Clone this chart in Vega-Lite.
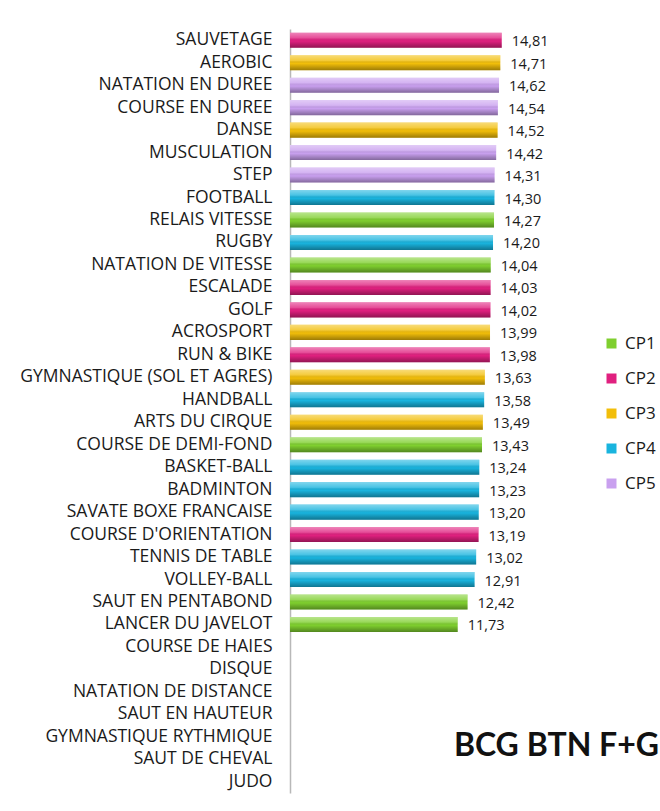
{
  "$schema": "https://vega.github.io/schema/vega-lite/v6.json",
  "autosize": {"type": "none"},
  "padding": {"left": 290, "top": 29, "right": 4, "bottom": 18},
  "width": 366,
  "height": 764,
  "background": "white",
  "title": {
    "text": "BCG BTN F+G",
    "orient": "bottom",
    "anchor": "end",
    "frame": "group",
    "font": "Lato",
    "fontWeight": "bold",
    "fontSize": 32,
    "color": "#111111",
    "baseline": "alphabetic",
    "offset": 0,
    "dx": 3,
    "dy": -37
  },
  "data": {
    "values": [
      {"sport": "SAUVETAGE", "note": 14.81, "cp": "CP2"},
      {"sport": "AEROBIC", "note": 14.71, "cp": "CP3"},
      {"sport": "NATATION EN DUREE", "note": 14.62, "cp": "CP5"},
      {"sport": "COURSE EN DUREE", "note": 14.54, "cp": "CP5"},
      {"sport": "DANSE", "note": 14.52, "cp": "CP3"},
      {"sport": "MUSCULATION", "note": 14.42, "cp": "CP5"},
      {"sport": "STEP", "note": 14.31, "cp": "CP5"},
      {"sport": "FOOTBALL", "note": 14.30, "cp": "CP4"},
      {"sport": "RELAIS VITESSE", "note": 14.27, "cp": "CP1"},
      {"sport": "RUGBY", "note": 14.20, "cp": "CP4"},
      {"sport": "NATATION DE VITESSE", "note": 14.04, "cp": "CP1"},
      {"sport": "ESCALADE", "note": 14.03, "cp": "CP2"},
      {"sport": "GOLF", "note": 14.02, "cp": "CP2"},
      {"sport": "ACROSPORT", "note": 13.99, "cp": "CP3"},
      {"sport": "RUN & BIKE", "note": 13.98, "cp": "CP2"},
      {"sport": "GYMNASTIQUE (SOL ET AGRES)", "note": 13.63, "cp": "CP3"},
      {"sport": "HANDBALL", "note": 13.58, "cp": "CP4"},
      {"sport": "ARTS DU CIRQUE", "note": 13.49, "cp": "CP3"},
      {"sport": "COURSE DE DEMI-FOND", "note": 13.43, "cp": "CP1"},
      {"sport": "BASKET-BALL", "note": 13.24, "cp": "CP4"},
      {"sport": "BADMINTON", "note": 13.23, "cp": "CP4"},
      {"sport": "SAVATE BOXE FRANCAISE", "note": 13.20, "cp": "CP4"},
      {"sport": "COURSE D'ORIENTATION", "note": 13.19, "cp": "CP2"},
      {"sport": "TENNIS DE TABLE", "note": 13.02, "cp": "CP4"},
      {"sport": "VOLLEY-BALL", "note": 12.91, "cp": "CP4"},
      {"sport": "SAUT EN PENTABOND", "note": 12.42, "cp": "CP1"},
      {"sport": "LANCER DU JAVELOT", "note": 11.73, "cp": "CP1"},
      {"sport": "COURSE DE HAIES", "note": null, "cp": "CP1"},
      {"sport": "DISQUE", "note": null, "cp": "CP1"},
      {"sport": "NATATION DE DISTANCE", "note": null, "cp": "CP1"},
      {"sport": "SAUT EN HAUTEUR", "note": null, "cp": "CP1"},
      {"sport": "GYMNASTIQUE RYTHMIQUE", "note": null, "cp": "CP1"},
      {"sport": "SAUT DE CHEVAL", "note": null, "cp": "CP1"},
      {"sport": "JUDO", "note": null, "cp": "CP1"}
    ]
  },
  "encoding": {
    "y": {
      "field": "sport",
      "type": "nominal",
      "sort": null,
      "scale": {
        "domain": ["SAUVETAGE", "AEROBIC", "NATATION EN DUREE", "COURSE EN DUREE", "DANSE", "MUSCULATION", "STEP", "FOOTBALL", "RELAIS VITESSE", "RUGBY", "NATATION DE VITESSE", "ESCALADE", "GOLF", "ACROSPORT", "RUN & BIKE", "GYMNASTIQUE (SOL ET AGRES)", "HANDBALL", "ARTS DU CIRQUE", "COURSE DE DEMI-FOND", "BASKET-BALL", "BADMINTON", "SAVATE BOXE FRANCAISE", "COURSE D'ORIENTATION", "TENNIS DE TABLE", "VOLLEY-BALL", "SAUT EN PENTABOND", "LANCER DU JAVELOT", "COURSE DE HAIES", "DISQUE", "NATATION DE DISTANCE", "SAUT EN HAUTEUR", "GYMNASTIQUE RYTHMIQUE", "SAUT DE CHEVAL", "JUDO"],
        "paddingInner": 0.33,
        "paddingOuter": 0.165
      },
      "axis": {
        "title": null,
        "ticks": false,
        "domain": true,
        "domainColor": "#b8b8b8",
        "domainWidth": 1.5,
        "labelFont": "Open Sans",
        "labelFontSize": 17.5,
        "labelColor": "#1a1a1a",
        "labelPadding": 18,
        "labelLimit": 400
      }
    },
    "x": {
      "field": "note",
      "type": "quantitative",
      "scale": {"domain": [0, 25.6], "nice": false, "zero": true},
      "axis": null
    }
  },
  "layer": [
    {
      "mark": {"type": "bar"},
      "encoding": {
        "color": {
          "field": "cp",
          "type": "nominal",
          "scale": {
            "domain": ["CP1", "CP2", "CP3", "CP4", "CP5"],
            "range": ["#7fcf2f", "#e0207f", "#f2be0a", "#19b4de", "#c9a0ef"]
          },
          "legend": {
            "title": null,
            "orient": "none",
            "legendX": 313,
            "legendY": 306,
            "padding": 0,
            "symbolType": "square",
            "symbolSize": 100,
            "symbolStrokeWidth": 0,
            "labelFont": "Open Sans",
            "labelFontSize": 17,
            "labelColor": "#1a1a1a",
            "labelOffset": 5,
            "rowPadding": 17
          }
        }
      }
    },
    {
      "mark": {
        "type": "bar",
        "color": {
          "gradient": "linear",
          "x1": 0, "y1": 0, "x2": 0, "y2": 1,
          "stops": [
            {"offset": 0, "color": "rgba(255,255,255,0.45)"},
            {"offset": 0.35, "color": "rgba(255,255,255,0.2)"},
            {"offset": 0.55, "color": "rgba(0,0,0,0)"},
            {"offset": 1, "color": "rgba(0,0,0,0.35)"}
          ]
        }
      }
    },
    {
      "mark": {
        "type": "text",
        "align": "left",
        "baseline": "middle",
        "dx": 10,
        "dy": 2,
        "font": "Open Sans",
        "fontSize": 14.5,
        "color": "#1a1a1a"
      },
      "encoding": {
        "text": {"field": "note", "type": "quantitative", "format": ".2f"}
      }
    }
  ],
  "config": {
    "view": {"stroke": null},
    "locale": {
      "number": {"decimal": ",", "thousands": " ", "grouping": [3], "currency": ["", " €"]}
    }
  }
}
